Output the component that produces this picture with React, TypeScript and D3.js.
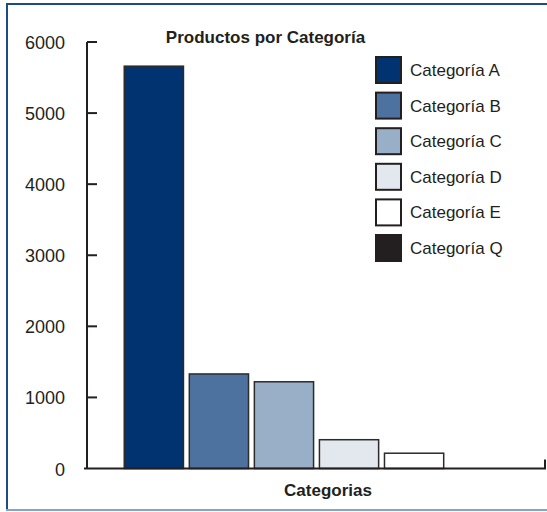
import React from "react";
import * as d3 from "d3";

const categories = ["Categoría A", "Categoría B", "Categoría C", "Categoría D", "Categoría E", "Categoría Q"];
const values = [5660, 1330, 1220, 405, 215, 0];
const colors = ["#00336f", "#4d72a0", "#99afc8", "#e3e8ef", "#ffffff", "#231f20"];
const yTicks = [0, 1000, 2000, 3000, 4000, 5000, 6000];

const FONT = "'Liberation Sans', Arial, Helvetica, sans-serif";

const App = () => {
  const width = 547,
    height = 512;

  // Plot area
  const y = d3.scaleLinear().domain([0, 6000]).range([468.5, 42]);
  const x = d3
    .scaleBand<string>()
    .domain(categories)
    .range([121, 512])
    .paddingInner(0.09)
    .paddingOuter(0.05);

  const axisX = 87;
  const legendY = d3.scaleLinear().domain([0, 1]).range([57, 92.6]);

  return (
    <svg
      width={width}
      height={height}
      style={{ position: "absolute", left: 0, top: 0, background: "#fff" }}
      fontFamily={FONT}
    >
      {/* frame */}
      <line x1={6} y1={4} x2={width} y2={4} stroke="#1d4b8a" strokeWidth={2} />
      <line x1={7} y1={4} x2={7} y2={510} stroke="#1d4b8a" strokeWidth={2} />
      <line x1={6} y1={510} x2={width} y2={510} stroke="#8aa3c3" strokeWidth={2} />

      {/* title */}
      <text x={265.5} y={43} textAnchor="middle" fontSize={17} fontWeight="bold" fill="#231f20">
        Productos por Categoría
      </text>

      {/* bars */}
      {values.map((v, i) =>
        v > 0 ? (
          <rect
            key={categories[i]}
            x={x(categories[i])}
            y={y(v)}
            width={x.bandwidth()}
            height={y(0) - y(v)}
            fill={colors[i]}
            stroke="#2b2b2b"
            strokeWidth={1.5}
          />
        ) : null
      )}

      {/* y axis */}
      <line x1={axisX} y1={y(6000)} x2={axisX} y2={y(0)} stroke="#231f20" strokeWidth={2} />
      {yTicks.map((t) => (
        <g key={t}>
          {t > 0 && <line x1={axisX} y1={y(t)} x2={axisX + 10} y2={y(t)} stroke="#231f20" strokeWidth={2} />}
          <text x={65} y={y(t) + 7} textAnchor="end" fontSize={18} fill="#231f20">
            {t}
          </text>
        </g>
      ))}

      {/* x axis */}
      <line x1={84} y1={y(0)} x2={546} y2={y(0)} stroke="#231f20" strokeWidth={2} />
      <line x1={545} y1={y(0)} x2={545} y2={y(0) - 9} stroke="#231f20" strokeWidth={2} />
      <text x={328} y={495.5} textAnchor="middle" fontSize={17} fontWeight="bold" fill="#231f20">
        Categorias
      </text>

      {/* legend */}
      {categories.map((c, i) => (
        <g key={c} transform={`translate(376,${legendY(i)})`}>
          <rect width={25} height={26} fill={colors[i]} stroke="#231f20" strokeWidth={2} />
          <text x={34} y={19} fontSize={17} fill="#231f20">
            {c}
          </text>
        </g>
      ))}
    </svg>
  );
};

export default App;
